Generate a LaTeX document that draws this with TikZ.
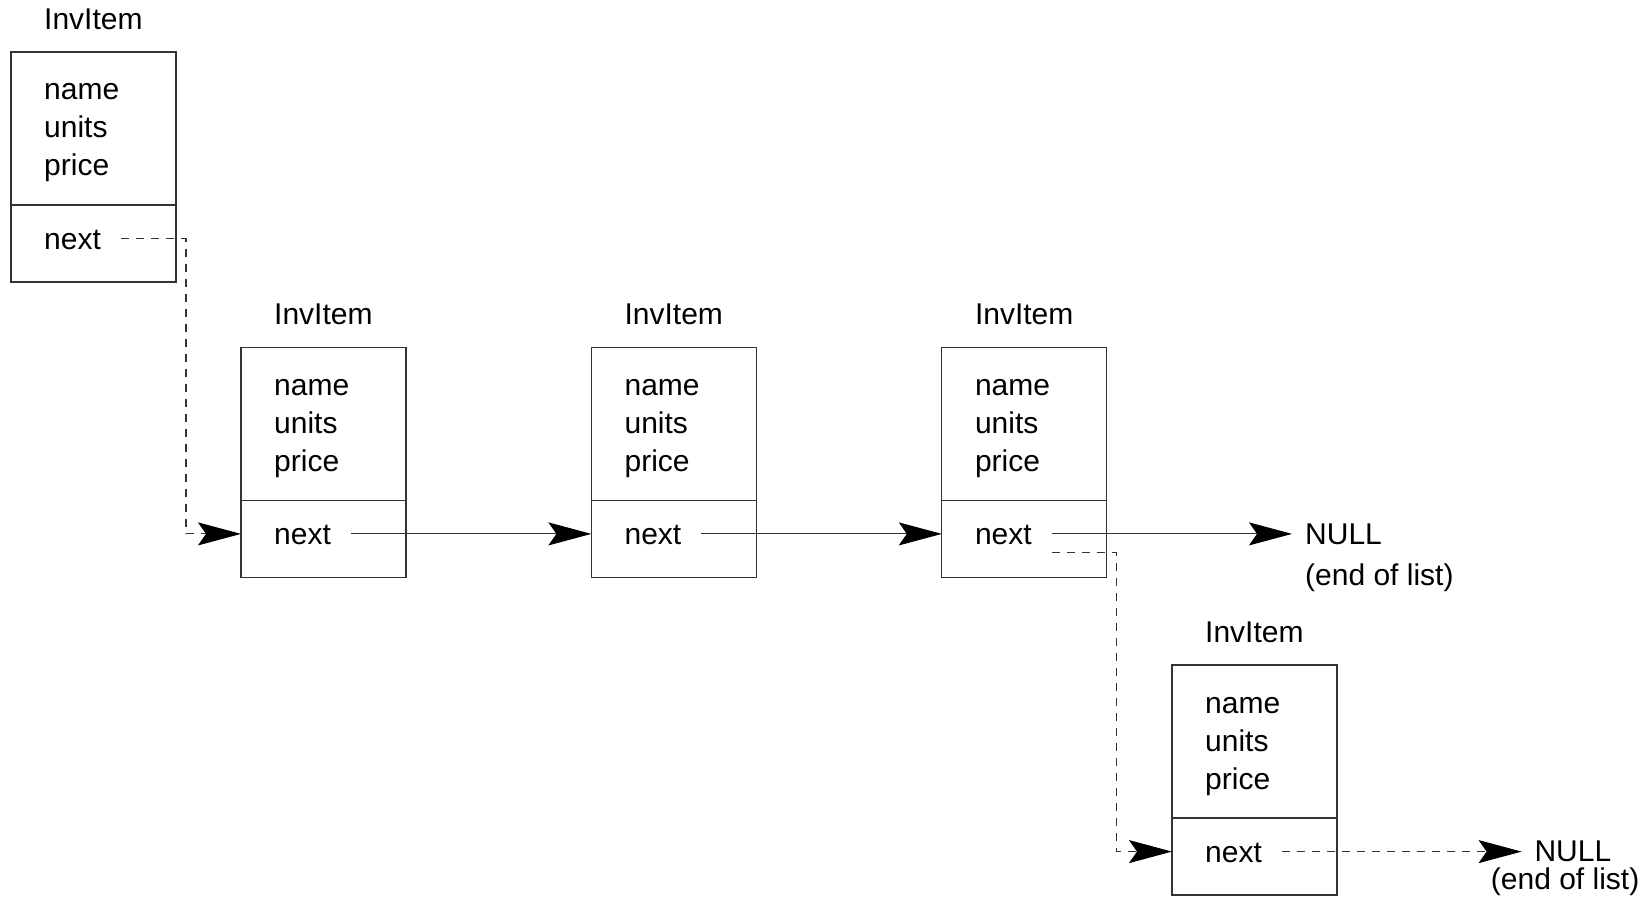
\documentclass[tikz,border=0pt]{standalone}
\usepackage{fontspec}
\setmainfont{Liberation Sans}
\usetikzlibrary{arrows.meta,calc}
\newcommand{\invitembox}[3]{% id, left, top
  \node[lbl] (#1t) at (#2+33,#3-22.4) {InvItem};
  \node[cell, minimum height=153pt] (#1a) at (#2,#3) {};
  \node[cell, minimum height=77pt] (#1b) at (#2,#3+153) {};
  \node[lbl] (#1n) at (#2+33,#3+48) {name};
  \node[lbl] (#1u) at (#2+33,#3+86) {units};
  \node[lbl] (#1r) at (#2+33,#3+124) {price};
  \node[lbl] (#1x) at (#2+33,#3+197.6) {next};
  \coordinate (#1p) at (#2+110,#3+186.6);
  \coordinate (#1i) at (#2,#3+186.6);
  \coordinate (#1c) at (#2+175,#3+186.6);
}
\begin{document}
\begin{tikzpicture}[x=1pt,y=-1pt,
  every node/.style={font=\fontsize{30}{37}\selectfont},
  cell/.style={draw=black!80, line width=1.3pt, minimum width=165pt, inner sep=0pt, outer sep=0pt, anchor=north west},
  lbl/.style={inner sep=0pt, anchor=base west},
  ptr/.style={draw=black!80, line width=1.1pt, -{Stealth[length=43pt,width=23pt,inset=8pt,color=black]}},
  dptr/.style={ptr, dash pattern=on 8pt off 7pt},
]
\useasboundingbox (0,0) rectangle (1650,901);

\invitembox{b1}{11}{52}
\invitembox{b2}{241}{347.3}
\invitembox{b3}{591.4}{347.3}
\invitembox{b4}{941.8}{347.3}
\invitembox{b5}{1172}{665}

\draw[dptr] (b1p) -- (b1c) |- (b2i);
\draw[ptr] (b2p) -- (b3i);
\draw[ptr] (b3p) -- (b4i);

\node[anchor=west, inner xsep=13pt, inner ysep=0pt] (null1) at (1292,533.9) {NULL};
\draw[ptr] (b4p) -- (b4p -| null1.west);
\node[anchor=west, inner sep=0pt] (eol1) at (1305,577.7) {(end of list)};

\coordinate (b4q) at ($(b4p)+(0,19)$);
\coordinate (b4k) at ($(b4c)+(0,19)$);
\draw[dptr] (b4q) -- (b4k) |- (b5i);

\node[anchor=west, inner xsep=12.7pt, inner ysep=0pt] (null2) at (1521.6,851.6) {NULL};
\draw[dptr] (b5p) -- (b5p -| null2.west);
\node[anchor=east, inner sep=0pt] (eol2) at (1639.5,881.8) {(end of list)};
\end{tikzpicture}
\end{document}
